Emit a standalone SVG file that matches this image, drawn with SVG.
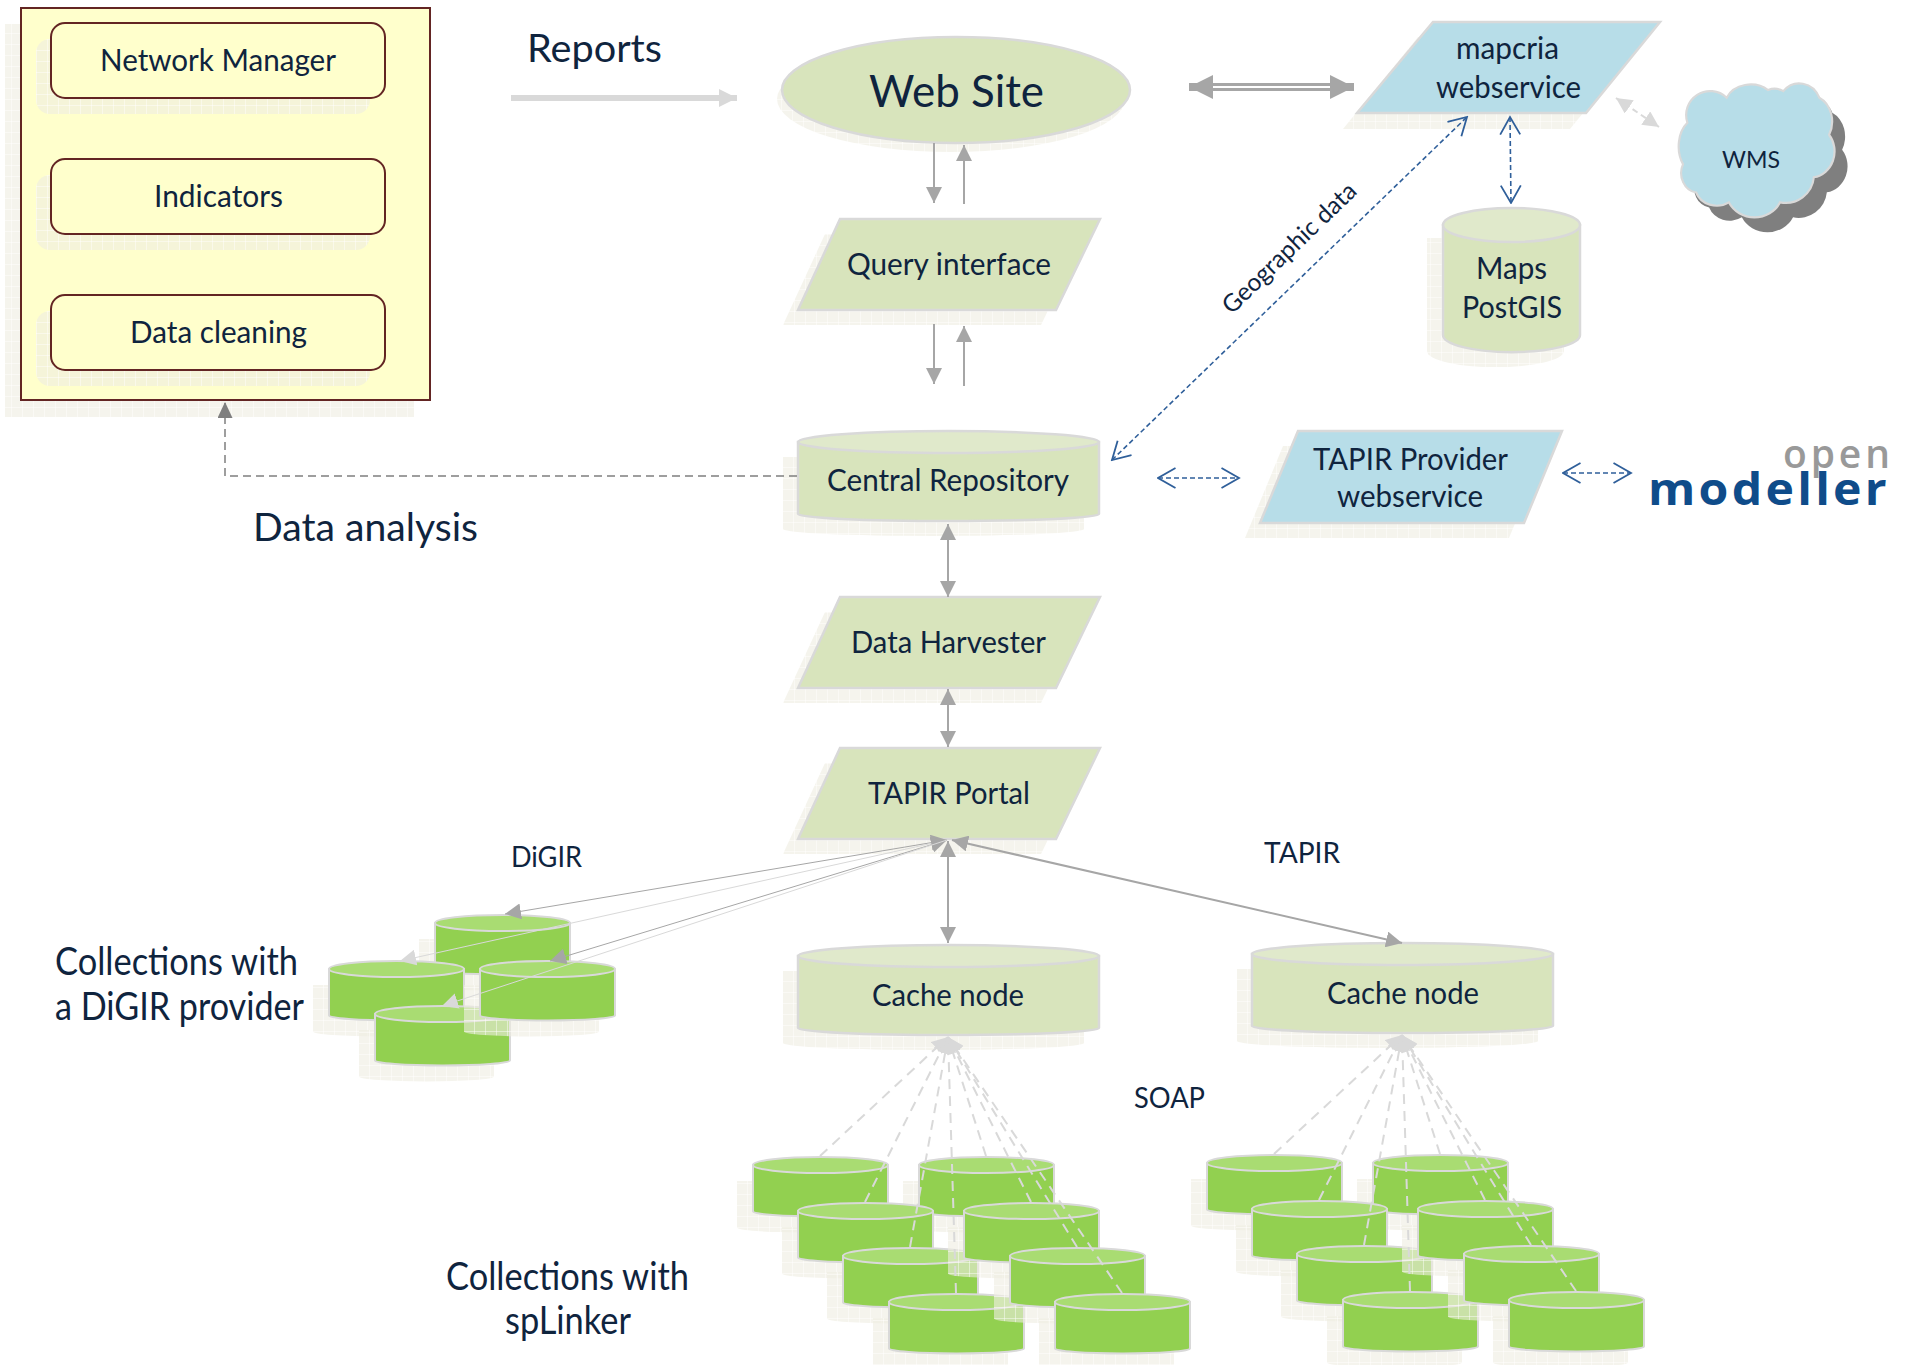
<svg xmlns="http://www.w3.org/2000/svg" width="1916" height="1365" viewBox="0 0 1916 1365">
<style>
text{font-family:"Lato","Carlito","Liberation Sans",sans-serif;fill:#0f243e}
.n{font-size:30px}.l{font-size:38px}.s{font-size:28px}
.shadow{fill:url(#hatch)}
.sage{fill:#d8e4bc;stroke:#d9d9d9;stroke-width:2.5}
.sagetop{fill:#e0e9cb;stroke:#d9d9d9;stroke-width:2.5}
.blue{fill:#b7dde8;stroke:#d9d9d9;stroke-width:2.5}
.green{fill:#92d050;stroke:#d9d9d9;stroke-width:2}
.greentop{fill:#a9dc72;stroke:#d9d9d9;stroke-width:2}
.yellow{fill:#ffffcc;stroke:#632523;stroke-width:2}
.g{fill:none;stroke:#a6a6a6;stroke-width:2;marker-end:url(#hg);marker-start:url(#hg)}
.one{marker-start:none}
.thin{stroke-width:1}
.lt{fill:none;stroke:#d9d9d9;stroke-width:1;marker-end:url(#hl)}
.soap{fill:none;stroke:#d9d9d9;stroke-width:2;stroke-dasharray:10 7;marker-end:url(#hl)}
.b{fill:none;stroke:#2f5f9a;stroke-width:1.6;stroke-dasharray:5 3;marker-end:url(#ho);marker-start:url(#ho)}
</style>
<defs>
<pattern id="hatch" width="11" height="11" patternUnits="userSpaceOnUse">
<rect width="11" height="11" fill="#eeece1" fill-opacity=".6"/>
<path d="M0 .5H11M.5 0V11" stroke="#fff" stroke-opacity=".45" stroke-width="1" fill="none"/>
</pattern>
<marker id="hg" markerUnits="userSpaceOnUse" markerWidth="16" markerHeight="16" refX="16" refY="8" orient="auto-start-reverse"><path d="M0 0L16 8L0 16Z" fill="#a6a6a6"/></marker>
<marker id="hl" markerUnits="userSpaceOnUse" markerWidth="16" markerHeight="16" refX="16" refY="8" orient="auto-start-reverse"><path d="M0 0L16 8L0 16Z" fill="#d9d9d9"/></marker>
<marker id="hd" markerUnits="userSpaceOnUse" markerWidth="16" markerHeight="15" refX="16" refY="7.5" orient="auto-start-reverse"><path d="M0 0L16 7.5L0 15Z" fill="#7f7f7f"/></marker>
<marker id="hr" markerUnits="userSpaceOnUse" markerWidth="18" markerHeight="18" refX="18" refY="9" orient="auto-start-reverse"><path d="M0 0L18 9L0 18Z" fill="#d9d9d9"/></marker>
<marker id="hw" markerUnits="userSpaceOnUse" markerWidth="24" markerHeight="24" refX="24" refY="12" orient="auto-start-reverse"><path d="M0 0L24 12L0 24Z" fill="#a6a6a6"/></marker>
<marker id="ho" markerUnits="userSpaceOnUse" markerWidth="20" markerHeight="22" refX="18.5" refY="11" orient="auto-start-reverse"><path d="M1 1L18.5 11L1 21" fill="none" stroke="#2f5f9a" stroke-width="1.8"/></marker>
<path id="cg-b" d="M1 9V55.500A67.5 5 0 0 0 136 55.500V9Z"/>
<g id="cyl-green">
<use href="#cg-b" class="shadow" x="-16" y="16" style="stroke:none"/>
<use href="#cg-b" class="green"/>
<ellipse cx="68.5" cy="9" rx="67.5" ry="8" class="greentop"/>
</g>
<path id="cs-b" d="M1 12V84A150.500 7 0 0 0 302 84V12Z"/>
<g id="cyl-sage">
<use href="#cs-b" class="shadow" x="-15" y="15" style="stroke:none"/>
<use href="#cs-b" class="sage"/>
<ellipse cx="151.500" cy="12" rx="150.500" ry="11" class="sagetop"/>
</g>
<path id="para" d="M42 0H302L258 91H0Z"/>
<path id="rr" d="M0 14a14 14 0 0 1 14-14H320a14 14 0 0 1 14 14V61a14 14 0 0 1-14 14H14a14 14 0 0 1-14-14Z"/>
<g id="rbox"><use href="#rr" class="shadow" x="-15" y="16"/><use href="#rr" class="yellow"/></g>
<path id="cloud" d="M1693 125A22 22 0 0 1 1729 102A24 20 0 0 1 1767 95A16 16 0 0 1 1781 96A20 22 0 0 1 1814 102A20 24 0 0 1 1823 136A22 24 0 0 1 1809 175A26 26 0 0 1 1778 198A26 24 0 0 1 1731 198A20 18 0 0 1 1701 189A16 18 0 0 1 1689 163A18 26 0 0 1 1693 125Z"/>
</defs>

<g id="data-management">
<rect x="5" y="24" width="409" height="393" class="shadow"/>
<rect x="21" y="8" width="409" height="392" class="yellow"/>
</g>
<g id="network-manager"><use href="#rbox" x="51" y="23"/><text class="n" x="100" y="71" textLength="236" lengthAdjust="spacingAndGlyphs">Network Manager</text></g>
<g id="indicators"><use href="#rbox" x="51" y="159"/><text class="n" x="154" y="207" textLength="129" lengthAdjust="spacingAndGlyphs">Indicators</text></g>
<g id="data-cleaning"><use href="#rbox" x="51" y="295"/><text class="n" x="130" y="343" textLength="177" lengthAdjust="spacingAndGlyphs">Data cleaning</text></g>

<g id="web-site">
<ellipse cx="951" cy="99" rx="174" ry="53" class="shadow"/>
<ellipse cx="956" cy="90" rx="174" ry="53" class="sage"/>
<text x="869" y="107" style="font-size:45px" textLength="175" lengthAdjust="spacingAndGlyphs">Web Site</text>
</g>
<g id="query-interface">
<use href="#para" class="shadow" transform="translate(783 234)"/>
<use href="#para" class="sage" transform="translate(798 219)"/>
<text class="n" x="847" y="275" textLength="204" lengthAdjust="spacingAndGlyphs">Query interface</text>
</g>
<g id="central-repository">
<use href="#cyl-sage" x="797" y="430"/>
<text class="n" x="827" y="491" textLength="242" lengthAdjust="spacingAndGlyphs">Central Repository</text>
</g>
<g id="data-harvester">
<use href="#para" class="shadow" transform="translate(783 612)"/>
<use href="#para" class="sage" transform="translate(798 597)"/>
<text class="n" x="851" y="653" textLength="195" lengthAdjust="spacingAndGlyphs">Data Harvester</text>
</g>
<g id="tapir-portal">
<use href="#para" class="shadow" transform="translate(783 763)"/>
<use href="#para" class="sage" transform="translate(798 748)"/>
<text class="n" x="868" y="804" textLength="162" lengthAdjust="spacingAndGlyphs">TAPIR Portal</text>
</g>
<g id="cache-node-1">
<use href="#cyl-sage" x="797" y="944"/>
<text class="n" x="872" y="1006" textLength="152" lengthAdjust="spacingAndGlyphs">Cache node</text>
</g>
<g id="cache-node-2">
<use href="#cyl-sage" x="1251" y="942"/>
<text class="n" x="1327" y="1004" textLength="152" lengthAdjust="spacingAndGlyphs">Cache node</text>
</g>
<g id="mapcria-webservice">
<path class="shadow" d="M1418 37H1645L1570 129H1343Z"/>
<path class="blue" d="M1433 22H1660L1586 113H1357Z"/>
<text class="n" x="1456" y="59" textLength="103" lengthAdjust="spacingAndGlyphs">mapcria</text>
<text class="n" x="1436" y="98" textLength="145" lengthAdjust="spacingAndGlyphs">webservice</text>
</g>
<g id="wms">
<use href="#cloud" fill="#7f7f7f" transform="translate(1768 165) scale(1.09) translate(-1755 -150)"/>
<use href="#cloud" fill="#b7dde8" stroke="#d9d9d9" stroke-width="2" transform="translate(1755 150) scale(1.09) translate(-1755 -150)"/>
<text x="1722" y="168" style="font-size:24px" textLength="58" lengthAdjust="spacingAndGlyphs">WMS</text>
</g>
<g id="maps-postgis">
<path class="shadow" d="M1427 238V351A68 16 0 0 0 1564 351V238Z"/>
<path class="sage" d="M1443 225V335A68 17 0 0 0 1580 335V225Z"/>
<ellipse cx="1511.500" cy="225" rx="68.500" ry="17" class="sagetop"/>
<text class="n" x="1476" y="279" textLength="71" lengthAdjust="spacingAndGlyphs">Maps</text>
<text class="n" x="1462" y="318" textLength="100" lengthAdjust="spacingAndGlyphs">PostGIS</text>
</g>
<g id="tapir-provider">
<path class="shadow" d="M1283 446H1547L1509 538H1245Z"/>
<path class="blue" d="M1298 431H1562L1524 523H1260Z"/>
<text class="n" x="1313" y="470" textLength="195" lengthAdjust="spacingAndGlyphs">TAPIR Provider</text>
<text class="n" x="1337" y="507" textLength="146" lengthAdjust="spacingAndGlyphs">webservice</text>
</g>
<g id="open-modeller">
<text x="1783" y="468" style="font-family:'Open Sans',sans-serif;font-size:39px;font-weight:600;fill:#999" textLength="107">open</text>
<text x="1648" y="505" style="font-family:'Open Sans',sans-serif;font-size:44px;font-weight:700;letter-spacing:3px;fill:#0f4c8a" textLength="242" lengthAdjust="spacingAndGlyphs">modeller</text>
</g>

<g id="digir-a"><use href="#cyl-green" x="434" y="914"/></g>
<g id="digir-b"><use href="#cyl-green" x="328" y="960"/></g>
<g id="digir-d"><use href="#cyl-green" x="374" y="1005"/></g>
<g id="digir-c"><use href="#cyl-green" x="479" y="960"/></g>

<g id="splinker-1-l1"><use href="#cyl-green" x="752" y="1156"/></g>
<g id="splinker-1-r1"><use href="#cyl-green" x="918" y="1156"/></g>
<g id="splinker-1-l2"><use href="#cyl-green" x="797" y="1202"/></g>
<g id="splinker-1-l3"><use href="#cyl-green" x="842" y="1247"/></g>
<g id="splinker-1-r2"><use href="#cyl-green" x="963" y="1202"/></g>
<g id="splinker-1-l4"><use href="#cyl-green" x="888" y="1293"/></g>
<g id="splinker-1-r3"><use href="#cyl-green" x="1009" y="1247"/></g>
<g id="splinker-1-r4"><use href="#cyl-green" x="1054" y="1293"/></g>

<g id="splinker-2-l1"><use href="#cyl-green" x="1206" y="1154"/></g>
<g id="splinker-2-r1"><use href="#cyl-green" x="1372" y="1154"/></g>
<g id="splinker-2-l2"><use href="#cyl-green" x="1251" y="1200"/></g>
<g id="splinker-2-l3"><use href="#cyl-green" x="1296" y="1245"/></g>
<g id="splinker-2-r2"><use href="#cyl-green" x="1417" y="1200"/></g>
<g id="splinker-2-l4"><use href="#cyl-green" x="1342" y="1291"/></g>
<g id="splinker-2-r3"><use href="#cyl-green" x="1463" y="1245"/></g>
<g id="splinker-2-r4"><use href="#cyl-green" x="1508" y="1291"/></g>

<g id="connectors">
<line x1="511" y1="98" x2="737" y2="98" fill="none" stroke="#d9d9d9" stroke-width="6" marker-end="url(#hr)"/>
<line x1="1189" y1="87" x2="1354" y2="87" fill="none" stroke="#a6a6a6" stroke-width="8" marker-start="url(#hw)" marker-end="url(#hw)"/>
<line x1="1213" y1="87" x2="1330" y2="87" stroke="#fff" stroke-width="2"/>
<line class="g one" x1="934" y1="143" x2="934" y2="203"/>
<line class="g one" x1="964" y1="204" x2="964" y2="145"/>
<line class="g one" x1="934" y1="324" x2="934" y2="384"/>
<line class="g one" x1="964" y1="386" x2="964" y2="326"/>
<line class="g" x1="948" y1="524" x2="948" y2="597"/>
<line class="g" x1="948" y1="689" x2="948" y2="747"/>
<line class="g" x1="948" y1="841" x2="948" y2="943"/>
<line class="g" x1="952" y1="840" x2="1402" y2="943"/>
<path d="M797 476H225V402" fill="none" stroke="#7f7f7f" stroke-width="1.5" stroke-dasharray="8 5" marker-end="url(#hd)"/>
<line class="b" x1="1112" y1="460" x2="1467" y2="117"/>
<line class="b" x1="1510" y1="117" x2="1511" y2="203"/>
<line class="b" x1="1158" y1="478" x2="1239" y2="478"/>
<line class="b" x1="1563" y1="473" x2="1631" y2="473"/>
<line x1="1616" y1="98" x2="1659" y2="127" fill="none" stroke="#d9d9d9" stroke-width="2" stroke-dasharray="6 4" marker-start="url(#hl)" marker-end="url(#hl)"/>
<line class="g thin" x1="947" y1="840" x2="505" y2="914"/>
<line class="lt" x1="947" y1="840" x2="400" y2="961"/>
<line class="g thin" x1="947" y1="840" x2="550" y2="961"/>
<line class="lt" x1="947" y1="840" x2="442" y2="1006"/>
<g id="soap-1">
<line class="soap" x1="820" y1="1156" x2="948" y2="1037"/>
<line class="soap" x1="986" y1="1156" x2="948" y2="1037"/>
<line class="soap" x1="865" y1="1202" x2="948" y2="1037"/>
<line class="soap" x1="1031" y1="1202" x2="948" y2="1037"/>
<line class="soap" x1="910" y1="1247" x2="948" y2="1037"/>
<line class="soap" x1="1077" y1="1247" x2="948" y2="1037"/>
<line class="soap" x1="956" y1="1293" x2="948" y2="1037"/>
<line class="soap" x1="1122" y1="1293" x2="948" y2="1037"/>
</g>
<g id="soap-2">
<line class="soap" x1="1274" y1="1154" x2="1402" y2="1035"/>
<line class="soap" x1="1440" y1="1154" x2="1402" y2="1035"/>
<line class="soap" x1="1319" y1="1200" x2="1402" y2="1035"/>
<line class="soap" x1="1485" y1="1200" x2="1402" y2="1035"/>
<line class="soap" x1="1364" y1="1245" x2="1402" y2="1035"/>
<line class="soap" x1="1531" y1="1245" x2="1402" y2="1035"/>
<line class="soap" x1="1410" y1="1291" x2="1402" y2="1035"/>
<line class="soap" x1="1576" y1="1291" x2="1402" y2="1035"/>
</g>
</g>

<g id="labels">
<text class="l" x="527" y="62" textLength="135" lengthAdjust="spacingAndGlyphs">Reports</text>
<text class="l" x="253" y="541" textLength="225" lengthAdjust="spacingAndGlyphs">Data analysis</text>
<text x="1295" y="254" text-anchor="middle" transform="rotate(-44 1295 254)" style="font-size:24.500px">Geographic data</text>
<text class="s" x="511" y="867" textLength="71" lengthAdjust="spacingAndGlyphs">DiGIR</text>
<text class="s" x="1264" y="863" textLength="76" lengthAdjust="spacingAndGlyphs">TAPIR</text>
<text class="s" x="1134" y="1108" textLength="71" lengthAdjust="spacingAndGlyphs">SOAP</text>
<text class="l" x="55" y="975" textLength="243" lengthAdjust="spacingAndGlyphs">Collections with</text>
<text class="l" x="55" y="1020" textLength="249" lengthAdjust="spacingAndGlyphs">a DiGIR provider</text>
<text class="l" x="446" y="1290" textLength="243" lengthAdjust="spacingAndGlyphs">Collections with</text>
<text class="l" x="505" y="1334" textLength="126" lengthAdjust="spacingAndGlyphs">spLinker</text>
</g>
</svg>
